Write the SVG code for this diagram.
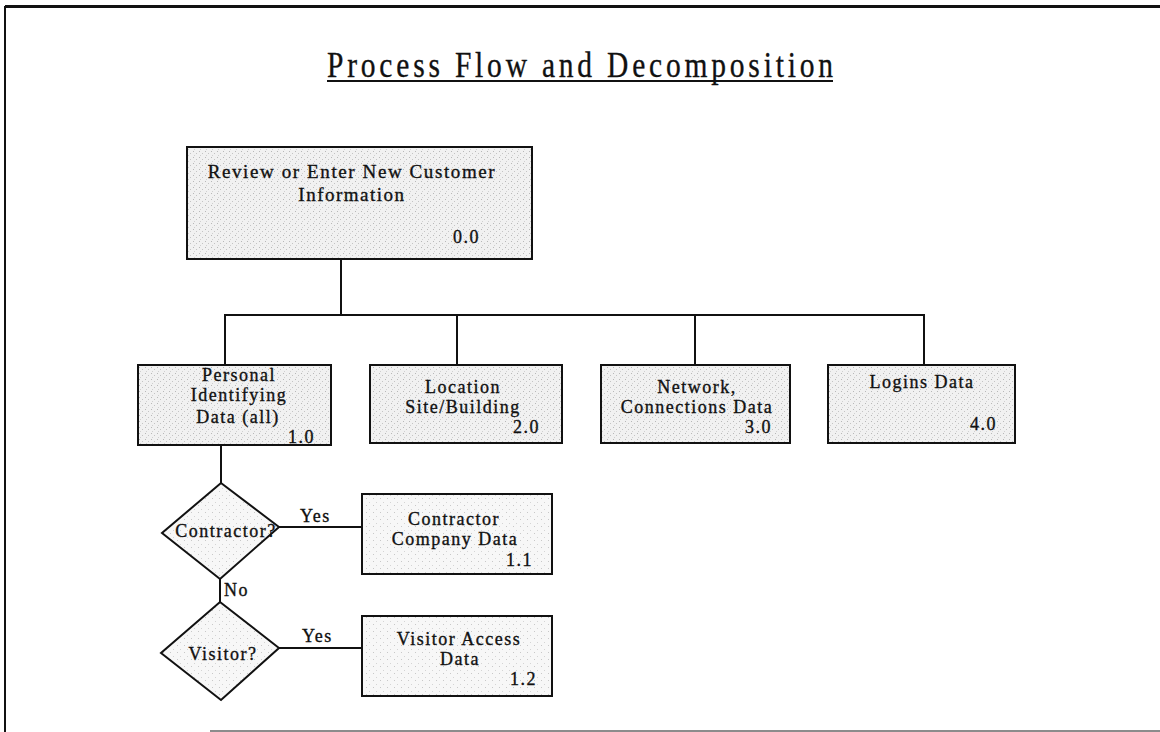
<svg xmlns="http://www.w3.org/2000/svg" width="1160" height="732" viewBox="0 0 1160 732">
  <style>
    text { font-family: "Liberation Serif", "Times New Roman", serif; fill: #111; stroke: #111; stroke-width: 0.35px; }
    .lbl { font-size: 18px; letter-spacing: 1.5px; text-anchor: middle; }
    .num { font-size: 18px; letter-spacing: 1.5px; }
    .box { fill: url(#stipple); stroke: #111; stroke-width: 2; }
    .light { fill: url(#stippleLight); stroke: #111; stroke-width: 2; }
    .wire { fill: none; stroke: #111; stroke-width: 2; }
  </style>
  <defs>
    <pattern id="stipple" width="6" height="6" patternUnits="userSpaceOnUse">
      <rect width="6" height="6" fill="#f1f1f1"/>
      <rect x="1" y="1" width="1" height="1" fill="#b8b8b8"/>
      <rect x="4" y="3" width="1" height="1" fill="#c4c4c4"/>
      <rect x="2" y="5" width="1" height="1" fill="#d0d0d0"/>
    </pattern>
    <pattern id="stippleLight" width="7" height="7" patternUnits="userSpaceOnUse">
      <rect width="7" height="7" fill="#f7f7f7"/>
      <rect x="2" y="1" width="1" height="1" fill="#c8c8c8"/>
      <rect x="5" y="5" width="1" height="1" fill="#d4d4d4"/>
    </pattern>
  </defs>

  <rect width="1160" height="732" fill="#ffffff"/>

  <!-- page frame -->
  <g id="frame">
    <line x1="5" y1="6.5" x2="1160" y2="6.5" stroke="#111" stroke-width="3"/>
    <line x1="5" y1="6" x2="5" y2="732" stroke="#111" stroke-width="2"/>
    <line x1="210" y1="731" x2="1160" y2="731" stroke="#666" stroke-width="1.5"/>
  </g>

  <!-- heading: narrow glyphs, open tracking -->
  <g id="title">
    <g transform="translate(327 77) scale(0.82 1)">
      <text x="0" y="0" style="font-size:36px; stroke-width:0.35px" textLength="617" lengthAdjust="spacing">Process Flow and Decomposition</text>
    </g>
    <line x1="327" y1="81" x2="833" y2="81" stroke="#111" stroke-width="2"/>
  </g>

  <!-- connectors -->
  <g id="connectors" class="wire">
    <polyline points="341,259 341,315"/>
    <polyline points="225,365 225,315 924,315 924,365"/>
    <line x1="457" y1="315" x2="457" y2="365"/>
    <line x1="695" y1="315" x2="695" y2="365"/>
    <line x1="221" y1="445" x2="221" y2="483"/>
    <line x1="279" y1="527" x2="362" y2="527"/>
    <line x1="220" y1="579" x2="220" y2="602"/>
    <line x1="279" y1="648" x2="362" y2="648"/>
  </g>

  <!-- edge labels -->
  <g id="edge-labels">
    <text class="num" x="300" y="522">Yes</text>
    <text class="num" x="224" y="596">No</text>
    <text class="num" x="302" y="642">Yes</text>
  </g>

  <g id="node-0-0">
    <rect class="box" x="187" y="147" width="345" height="112"/>
    <text class="lbl" x="352" y="178" style="font-size:19px; letter-spacing:1.6px">Review or Enter New Customer</text>
    <text class="lbl" x="352" y="201" style="font-size:19px">Information</text>
    <text class="num" x="453" y="243">0.0</text>
  </g>

  <g id="node-1-0">
    <rect class="box" x="138" y="365" width="193" height="80"/>
    <text class="lbl" x="239" y="381">Personal</text>
    <text class="lbl" x="239" y="401">Identifying</text>
    <text class="lbl" x="238" y="423">Data (all)</text>
    <text class="num" x="288" y="443">1.0</text>
  </g>

  <g id="node-2-0">
    <rect class="box" x="370" y="365" width="192" height="78"/>
    <text class="lbl" x="463" y="393">Location</text>
    <text class="lbl" x="463" y="413">Site/Building</text>
    <text class="num" x="513" y="433">2.0</text>
  </g>

  <g id="node-3-0">
    <rect class="box" x="601" y="365" width="189" height="78"/>
    <text class="lbl" x="697" y="393">Network,</text>
    <text class="lbl" x="697" y="413">Connections Data</text>
    <text class="num" x="745" y="433">3.0</text>
  </g>

  <g id="node-4-0">
    <rect class="box" x="828" y="365" width="187" height="78"/>
    <text class="lbl" x="922" y="388">Logins Data</text>
    <text class="num" x="970" y="430">4.0</text>
  </g>

  <g id="decision-contractor">
    <polygon class="light" points="221,483 279,527 220,579 162,533"/>
    <text class="lbl" x="226" y="537">Contractor?</text>
  </g>

  <g id="decision-visitor">
    <polygon class="light" points="220,602 279,648 221,700 161,653"/>
    <text class="lbl" x="223" y="660">Visitor?</text>
  </g>

  <g id="node-1-1">
    <rect class="light" x="362" y="494" width="190" height="80"/>
    <text class="lbl" x="454" y="525">Contractor</text>
    <text class="lbl" x="455" y="545">Company Data</text>
    <text class="num" x="506" y="566">1.1</text>
  </g>

  <g id="node-1-2">
    <rect class="light" x="362" y="616" width="190" height="80"/>
    <text class="lbl" x="459" y="645">Visitor Access</text>
    <text class="lbl" x="460" y="665">Data</text>
    <text class="num" x="510" y="685">1.2</text>
  </g>
</svg>
